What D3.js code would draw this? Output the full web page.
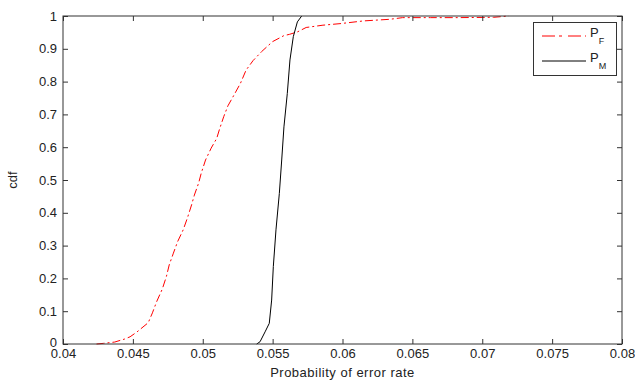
<!DOCTYPE html>
<html>
<head>
<meta charset="utf-8">
<script src="https://cdn.jsdelivr.net/npm/d3@7"></script>
<style>
  body { margin: 0; background: #fff; }
  svg { display: block; font-family: "Liberation Sans", Arial, sans-serif; }
</style>
</head>
<body>
<svg id="chart" width="635" height="381"></svg>
<script>
const pfX = [0.0424, 0.0429, 0.0437, 0.0444, 0.0448, 0.0453, 0.0461, 0.0464, 0.0467, 0.0471,
             0.0474, 0.0476, 0.0479, 0.0482, 0.0486, 0.0489, 0.0492, 0.0494, 0.0497, 0.0499,
             0.0502, 0.0506, 0.0510, 0.0512, 0.0515, 0.0518, 0.0523, 0.0527, 0.0531, 0.0536,
             0.0542, 0.0550, 0.0558, 0.0562, 0.0568, 0.0574, 0.0586, 0.0599, 0.0615, 0.0634,
             0.0643, 0.0663, 0.0682, 0.0708, 0.0719];
const pfY = [0.000, 0.002, 0.006, 0.015, 0.022, 0.037, 0.065, 0.095, 0.129, 0.167,
             0.206, 0.241, 0.277, 0.312, 0.348, 0.384, 0.424, 0.454, 0.490, 0.522,
             0.561, 0.597, 0.627, 0.655, 0.693, 0.726, 0.764, 0.795, 0.835, 0.864,
             0.891, 0.922, 0.940, 0.944, 0.952, 0.965, 0.972, 0.977, 0.985, 0.990,
             0.995, 0.995, 0.995, 0.996, 1.000];
const pmX = [0.05386, 0.0541, 0.05446, 0.05476, 0.05493, 0.05505, 0.05524, 0.05548, 0.05565,
             0.05581, 0.05605, 0.05624, 0.05648, 0.05677, 0.05708];
const pmY = [0.000, 0.007, 0.037, 0.063, 0.134, 0.236, 0.348, 0.459, 0.561,
             0.662, 0.764, 0.866, 0.937, 0.982, 1.000];

const xTicks = [0.04, 0.045, 0.05, 0.055, 0.06, 0.065, 0.07, 0.075, 0.08];
const xTickLabels = ["0.04", "0.045", "0.05", "0.055", "0.06", "0.065", "0.07", "0.075", "0.08"];
const yTicks = [0, 0.1, 0.2, 0.3, 0.4, 0.5, 0.6, 0.7, 0.8, 0.9, 1];
const yTickLabels = ["0", "0.1", "0.2", "0.3", "0.4", "0.5", "0.6", "0.7", "0.8", "0.9", "1"];

const seriesNames = ["F", "M"];
const seriesColors = ["#ff0000", "#000000"];

// plot box in pixels
const boxL = 63, boxR = 622, boxT = 16, boxB = 344;
const axisColor = "#333";
const textColor = "#222";

let svg = d3.select('#chart');

let x = d3.scaleLinear().domain([0.04, 0.08]).range([boxL, boxR]);
let y = d3.scaleLinear().domain([0, 1]).range([boxB, boxT]);

let line = d3.line().x(d => x(d[0])).y(d => y(d[1]));

// curves
svg.append('path')
   .datum(pfX.map((v, i) => [v, pfY[i]]))
   .attr('d', line)
   .attr('fill', 'none')
   .attr('stroke', seriesColors[0])
   .attr('stroke-width', 1)
   .attr('stroke-dasharray', '8,3,2,3');

svg.append('path')
   .datum(pmX.map((v, i) => [v, pmY[i]]))
   .attr('d', line)
   .attr('fill', 'none')
   .attr('stroke', seriesColors[1])
   .attr('stroke-width', 1);

// axes with inward ticks on all four sides
let fmtX = (d, i) => xTickLabels[i];
let fmtY = (d, i) => yTickLabels[i];

let styleAxis = g => {
    g.select('.domain').remove();
    g.selectAll('line').attr('stroke', axisColor);
    g.selectAll('text').attr('fill', textColor).style('font-size', '13px');
};

svg.append('g')
   .attr('transform', `translate(0,${boxB})`)
   .call(d3.axisBottom(x).tickValues(xTicks).tickFormat(fmtX).tickSizeInner(-5).tickSizeOuter(0).tickPadding(5))
   .call(styleAxis);

svg.append('g')
   .attr('transform', `translate(0,${boxT})`)
   .call(d3.axisTop(x).tickValues(xTicks).tickFormat('').tickSizeInner(-5).tickSizeOuter(0))
   .call(styleAxis);

svg.append('g')
   .attr('transform', `translate(${boxL},0)`)
   .call(d3.axisLeft(y).tickValues(yTicks).tickFormat(fmtY).tickSizeInner(-5).tickSizeOuter(0).tickPadding(6))
   .call(styleAxis);

svg.append('g')
   .attr('transform', `translate(${boxR},0)`)
   .call(d3.axisRight(y).tickValues(yTicks).tickFormat('').tickSizeInner(-5).tickSizeOuter(0))
   .call(styleAxis);

// nudge the bottom y label up a little so it clears the x labels
svg.selectAll('g text').filter(function () { return this.textContent === '0'; }).attr('dy', '0.2em');

// frame
svg.append('rect')
   .attr('x', boxL).attr('y', boxT)
   .attr('width', boxR - boxL).attr('height', boxB - boxT)
   .attr('fill', 'none')
   .attr('stroke', axisColor)
   .attr('stroke-width', 1);

// axis titles
svg.append('text')
   .attr('x', (boxL + boxR) / 2)
   .attr('y', 377)
   .attr('text-anchor', 'middle')
   .attr('fill', textColor)
   .style('font-size', '13px')
   .style('letter-spacing', '0.5px')
   .text('Probability of error rate');

svg.append('text')
   .attr('transform', `translate(17,${(boxT + boxB) / 2}) rotate(-90)`)
   .attr('text-anchor', 'middle')
   .attr('fill', textColor)
   .style('font-size', '13px')
   .text('cdf');

// legend
let legend = svg.append('g');
legend.append('rect')
      .attr('x', 533.5).attr('y', 22.5)
      .attr('width', 83).attr('height', 53)
      .attr('fill', '#fff')
      .attr('stroke', axisColor);

seriesNames.forEach((name, i) => {
    let ly = 36 + i * 25;
    legend.append('line')
          .attr('x1', 542).attr('x2', 586)
          .attr('y1', ly).attr('y2', ly)
          .attr('stroke', seriesColors[i])
          .attr('stroke-dasharray', i === 0 ? '13,4,3,6' : null);
    let t = legend.append('text')
                  .attr('x', 590)
                  .attr('y', ly + 1)
                  .attr('fill', textColor)
                  .style('font-size', '13px');
    t.append('tspan').text('P');
    t.append('tspan')
     .attr('dy', 7)
     .style('font-size', '9px')
     .text(name);
});
</script>
</body>
</html>
